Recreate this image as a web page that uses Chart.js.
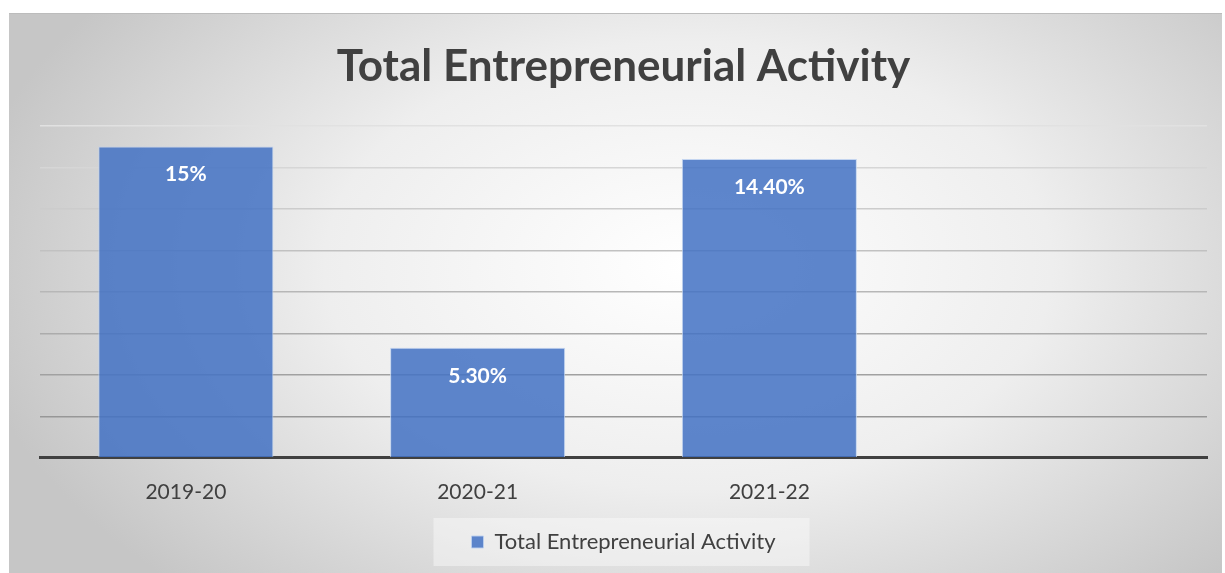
<!DOCTYPE html>
<html>
<head>
<meta charset="utf-8">
<script src="https://cdn.jsdelivr.net/npm/chart.js@4"></script>
<style>
  html, body { margin: 0; padding: 0; background: #fff; }
  #wrap {
    position: absolute; left: 9px; top: 13px; width: 1213px; height: 560px;
    background: radial-gradient(ellipse 60% 80% at 56% 45%, #ffffff 0%, #eeeeee 50%, #c6c6c6 100%);
    border-top: 1px solid #bcbcbc;
    box-sizing: border-box;
  }
  #chart { display: block; }
</style>
</head>
<body>
<div id="wrap"><canvas id="chart" width="1213" height="559"></canvas></div>
<script>
// chart data
const categories = ['2019-20', '2020-21', '2021-22', ''];
const teaValues = [15, 5.3, 14.4, null];
const valueLabels = ['15%', '5.30%', '14.40%', ''];
const seriesName = 'Total Entrepreneurial Activity';

const ctx = document.getElementById('chart');

// white value labels inside the top of each bar
const barLabels = {
  id: 'barLabels',
  afterDatasetsDraw(chart) {
    const c = chart.ctx;
    const meta = chart.getDatasetMeta(0);
    c.save();
    c.fillStyle = '#ffffff';
    c.font = 'bold 21px Lato';
    c.textAlign = 'center';
    c.textBaseline = 'middle';
    meta.data.forEach((bar, i) => {
      if (!valueLabels[i]) return;
      c.fillText(valueLabels[i], bar.x, bar.y + 28);
    });
    c.restore();
  }
};

// light panel behind the legend
const legendPanel = {
  id: 'legendPanel',
  beforeDraw(chart) {
    const hb = chart.legend && chart.legend.legendHitBoxes;
    if (!hb || !hb.length) return;
    const b = hb[0];
    const c = chart.ctx;
    c.save();
    c.fillStyle = 'rgba(255,255,255,0.4)';
    c.fillRect(b.left - 38, b.top - 13, b.width + 72, b.height + 26);
    c.restore();
  }
};

new Chart(ctx, {
  type: 'bar',
  data: {
    labels: categories,
    datasets: [{
      label: seriesName,
      data: teaValues,
      backgroundColor: 'rgba(68,114,196,0.86)',
      borderColor: 'rgba(190,208,238,0.9)',
      borderWidth: 1,
      categoryPercentage: 1,
      barPercentage: 0.6
    }]
  },
  options: {
    responsive: false,
    animation: false,
    layout: { padding: { left: 31, right: 15, top: 0, bottom: 10 } },
    scales: {
      x: {
        grid: { display: false },
        border: { color: '#404040', width: 3 },
        ticks: { color: '#404040', font: { family: 'Lato', size: 21 }, padding: 14 }
      },
      y: {
        min: 0,
        max: 16,
        ticks: { display: false, stepSize: 2 },
        border: { display: false },
        grid: {
          drawTicks: false,
          lineWidth: 1.5,
          color: (c) => {
            const v = c.tick ? c.tick.value : 0;
            const g = Math.round(140 + (v / 16) * 85);
            return 'rgb(' + g + ',' + g + ',' + g + ')';
          }
        }
      }
    },
    plugins: {
      title: {
        display: true,
        text: 'Total Entrepreneurial Activity',
        color: '#404040',
        font: { family: 'Lato', size: 44, weight: 'bold' },
        padding: { top: 26, bottom: 33 }
      },
      legend: {
        position: 'bottom',
        labels: {
          color: '#404040',
          font: { family: 'Lato', size: 22 },
          boxWidth: 12,
          boxHeight: 12,
          padding: 12
        }
      },
      tooltip: { enabled: false }
    }
  },
  plugins: [legendPanel, barLabels]
});
</script>
</body>
</html>
